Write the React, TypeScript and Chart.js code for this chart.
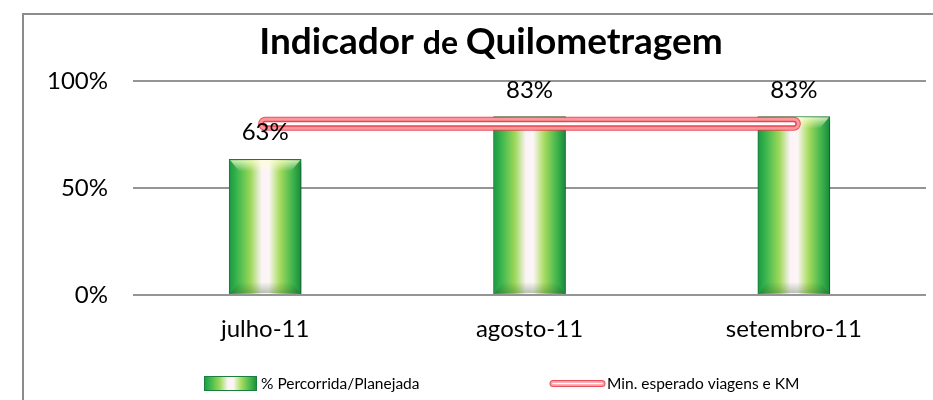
import React, { useEffect, useRef } from 'react';
import { Chart, registerables } from 'chart.js';
Chart.register(...registerables);

const categories = ['julho-11', 'agosto-11', 'setembro-11'];
const percorridaValues = [0.634, 0.834, 0.834];
const minimoValues = [0.8, 0.8, 0.8];
const yTickValues = [0, 0.5, 1];
const seriesNames = ['% Percorrida/Planejada', 'Min. esperado viagens e KM'];
const titleParts = [
  { text: 'Indicador ', size: 37 },
  { text: 'de ', size: 32 },
  { text: 'Quilometragem', size: 37 },
];

const FONT = 'Lato, "Open Sans", sans-serif';
const BAR_W = 72;

function barGradient(c: CanvasRenderingContext2D, x0: number, x1: number) {
  const g = c.createLinearGradient(x0, 0, x1, 0);
  g.addColorStop(0, '#1b9843');
  g.addColorStop(0.12, '#3fb84e');
  g.addColorStop(0.3, '#9ed85a');
  g.addColorStop(0.45, '#fbf3f6');
  g.addColorStop(0.55, '#fdf6f8');
  g.addColorStop(0.7, '#a9dc60');
  g.addColorStop(0.88, '#40b54c');
  g.addColorStop(1, '#178a3c');
  return g;
}

function strokeLayers(c: CanvasRenderingContext2D, pts: { x: number; y: number }[], layers: [number, string][]) {
  c.save();
  c.lineCap = 'round';
  c.lineJoin = 'round';
  for (const [w, col] of layers) {
    c.beginPath();
    pts.forEach((p, i) => (i === 0 ? c.moveTo(p.x, p.y) : c.lineTo(p.x, p.y)));
    c.lineWidth = w;
    c.strokeStyle = col;
    c.stroke();
  }
  c.restore();
}

const decorPlugin = {
  id: 'decor',
  beforeDatasetDraw(chart: any, args: any) {
    if (args.index === 0) {
      const c = chart.ctx;
      c.save();
      c.shadowColor = 'rgba(0,0,0,0.35)';
      c.shadowBlur = 6;
      c.shadowOffsetX = 3;
      c.shadowOffsetY = 4;
    }
  },
  afterDatasetDraw(chart: any, args: any) {
    const c: CanvasRenderingContext2D = chart.ctx;
    if (args.index === 0) {
      c.restore();
      const meta = chart.getDatasetMeta(0);
      meta.data.forEach((el: any) => {
        const x0 = el.x - el.width / 2;
        const x1 = el.x + el.width / 2;
        const top = el.y;
        const bot = el.base;
        const gt = c.createLinearGradient(0, top, 0, top + 12);
        gt.addColorStop(0, 'rgba(255,255,210,0.85)');
        gt.addColorStop(1, 'rgba(255,255,210,0)');
        c.fillStyle = gt;
        c.beginPath();
        c.moveTo(x0 + 1, top + 1);
        c.lineTo(x1 - 1, top + 1);
        c.lineTo(x1 - 10, top + 12);
        c.lineTo(x0 + 10, top + 12);
        c.closePath();
        c.fill();
        const gb = c.createLinearGradient(0, bot, 0, bot - 12);
        gb.addColorStop(0, 'rgba(40,90,30,0.35)');
        gb.addColorStop(1, 'rgba(40,90,30,0)');
        c.fillStyle = gb;
        c.beginPath();
        c.moveTo(x0 + 1, bot - 1);
        c.lineTo(x1 - 1, bot - 1);
        c.lineTo(x1 - 10, bot - 12);
        c.lineTo(x0 + 10, bot - 12);
        c.closePath();
        c.fill();
      });
    }
    if (args.index === 1) {
      const meta = chart.getDatasetMeta(1);
      const pts = meta.data.map((p: any) => ({ x: p.x, y: p.y }));
      strokeLayers(c, pts, [
        [12, 'rgba(255,160,166,0.9)'],
        [6, 'rgba(238,60,72,0.95)'],
        [3, '#ffffff'],
      ]);
    }
  },
  afterDatasetsDraw(chart: any) {
    const c: CanvasRenderingContext2D = chart.ctx;
    const meta = chart.getDatasetMeta(0);
    c.save();
    c.font = `24px ${FONT}`;
    c.fillStyle = '#000';
    c.textAlign = 'center';
    c.textBaseline = 'alphabetic';
    meta.data.forEach((el: any, i: number) => {
      c.fillText(Math.round(percorridaValues[i] * 100) + '%', el.x, el.y - 19);
    });
    c.restore();
  },
  afterDraw(chart: any) {
    const c: CanvasRenderingContext2D = chart.ctx;
    c.save();
    c.fillStyle = '#000';
    c.textBaseline = 'alphabetic';
    c.textAlign = 'left';
    let total = 0;
    const widths = titleParts.map((p) => {
      c.font = `bold ${p.size}px ${FONT}`;
      const w = c.measureText(p.text).width;
      total += w;
      return w;
    });
    let x = 491 - total / 2;
    titleParts.forEach((p, i) => {
      c.font = `bold ${p.size}px ${FONT}`;
      c.fillText(p.text, x, 54);
      x += widths[i];
    });
    const ly = 383.5;
    c.fillStyle = barGradient(c, 204, 257);
    c.fillRect(204, ly - 7.5, 53, 15);
    c.strokeStyle = '#17803a';
    c.lineWidth = 1;
    c.strokeRect(204.5, ly - 7, 52, 14);
    c.font = `15.5px ${FONT}`;
    c.fillStyle = '#000';
    c.textBaseline = 'middle';
    c.fillText(seriesNames[0], 261, ly);
    strokeLayers(c, [{ x: 553, y: ly }, { x: 602, y: ly }], [
      [7, 'rgba(232,50,62,0.85)'],
      [5, 'rgba(255,160,166,0.95)'],
      [1.5, '#ffffff'],
    ]);
    c.fillStyle = '#000';
    c.fillText(seriesNames[1], 607, ly);
    c.restore();
  },
};

export default function App() {
  const ref = useRef<HTMLCanvasElement>(null);
  useEffect(() => {
    if (!ref.current) return;
    const chart = new Chart(ref.current, {
      data: {
        labels: categories,
        datasets: [
          {
            type: 'bar',
            label: seriesNames[0],
            data: percorridaValues,
            order: 2,
            barThickness: BAR_W,
            borderColor: '#17803a',
            borderWidth: 1,
            backgroundColor: (ctx: any) => {
              const chart = ctx.chart;
              const xs = chart.scales?.x;
              if (!xs || typeof ctx.dataIndex !== 'number') return '#3cb54a';
              const cx = xs.getPixelForValue(ctx.dataIndex);
              if (!Number.isFinite(cx)) return '#3cb54a';
              return barGradient(chart.ctx, cx - BAR_W / 2, cx + BAR_W / 2);
            },
          },
          {
            type: 'line',
            label: seriesNames[1],
            data: minimoValues,
            order: 1,
            borderColor: 'rgba(232,50,62,0.85)',
            borderWidth: 14,
            borderCapStyle: 'round',
            pointRadius: 0,
            fill: false,
          },
        ],
      } as any,
      options: {
        responsive: false,
        devicePixelRatio: 1,
        animation: false,
        layout: { padding: { top: 81, left: 0, right: 7, bottom: 35 } },
        plugins: {
          legend: { display: false },
          title: { display: false },
          tooltip: { enabled: false },
        },
        scales: {
          x: {
            grid: { display: false },
            border: { display: false },
            ticks: { color: '#000', font: { family: FONT, size: 24 }, padding: 12 },
            afterFit: (s: any) => {
              s.height = 70;
            },
          },
          y: {
            min: 0,
            max: 1,
            afterBuildTicks: (s: any) => {
              s.ticks = yTickValues.map((v) => ({ value: v }));
            },
            grid: { color: '#959595', lineWidth: 2, drawTicks: false },
            border: { display: false },
            ticks: {
              color: '#000',
              font: { family: FONT, size: 24 },
              padding: 25,
              callback: (v: any) => Math.round(v * 100) + '%',
            },
            afterFit: (s: any) => {
              s.width = 133;
            },
          },
        },
      } as any,
      plugins: [decorPlugin],
    });
    return () => chart.destroy();
  }, []);
  return (
    <div style={{ position: 'fixed', inset: 0, overflow: 'hidden', background: '#fff' }}>
      <div
        style={{
          position: 'absolute',
          left: 22,
          top: 13,
          width: 960,
          height: 420,
          border: '2px solid #8c8c8c',
          boxSizing: 'border-box',
        }}
      />
      <canvas ref={ref} width={933} height={400} style={{ position: 'absolute', left: 0, top: 0 }} />
    </div>
  );
}
